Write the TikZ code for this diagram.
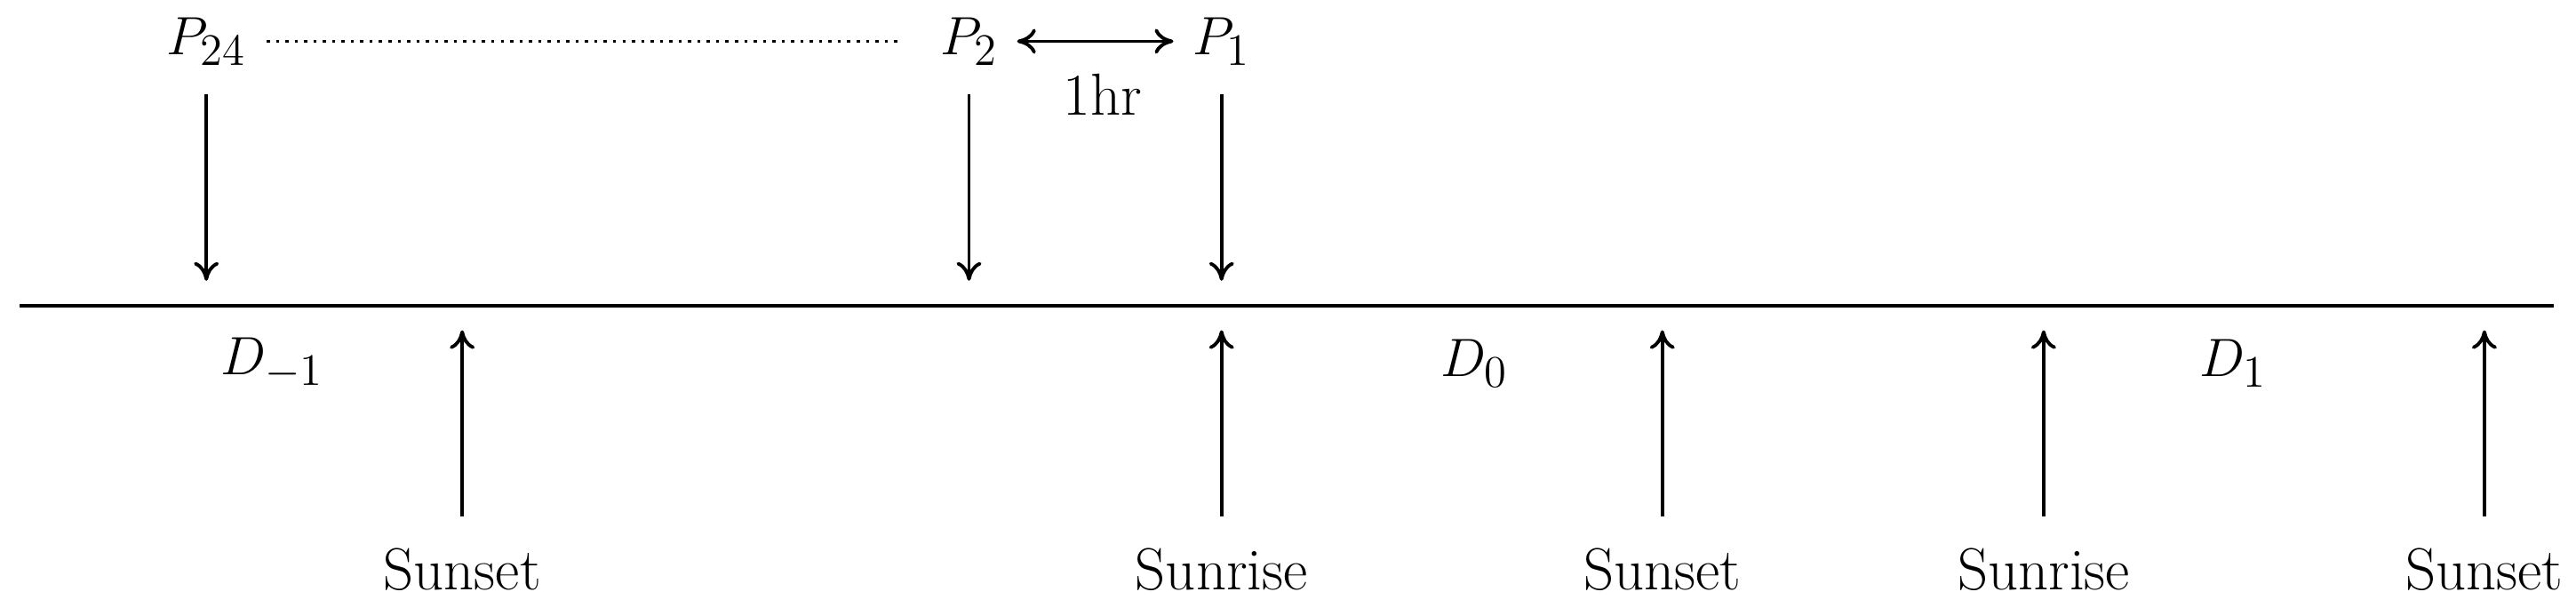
\documentclass[tikz,border=0pt]{standalone}
\usetikzlibrary{arrows.meta}
\begin{document}
\begin{tikzpicture}[x=0.01858cm,y=-0.01858cm,
  lbl/.style={font=\fontsize{19}{22}\selectfont,inner sep=0pt},
  arr/.style={-{To[length=6pt,width=8pt]},line width=1.1pt}]
\useasboundingbox (0,0) rectangle (1560.5,368.1);
\draw[line width=1.1pt] (12,185) coordinate (L) -- (1547,185) coordinate (R);
% top labels
\node[lbl] (p24) at (125,25) {$P_{24}$};
\node[lbl] (p2) at (587,25) {$P_2$};
\node[lbl] (p1) at (740,25) {$P_1$};
\draw[dotted,line width=1pt] (p24.east) ++(12,0) coordinate (d1) -- ([xshift=-12pt]p2.west) coordinate (d2);
\draw[{To[length=6pt,width=8pt]}-{To[length=6pt,width=8pt]},line width=1.1pt] ([xshift=6pt]p2.east) -- ([xshift=-6pt]p1.west);
\node[lbl] (hr) at (668,57) {1hr};
% down arrows
\coordinate (a24) at (125,170); \coordinate (a2) at (587,170); \coordinate (a1) at (740,170);
\draw[arr] (125,57) -- (a24);
\draw[arr] (587,57) -- (a2);
\draw[arr] (740,57) -- (a1);
% D labels
\node[lbl] (dm1) at (165,220) {$D_{-1}$};
\node[lbl] (d0) at (893,220) {$D_0$};
\node[lbl] (dd1) at (1353,220) {$D_1$};
% up arrows and labels
\foreach \x/\t/\n in {280/Sunset/s1,740/Sunrise/s2,1007/Sunset/s3,1238/Sunrise/s4,1505/Sunset/s5}{
  \node[lbl] (\n) at (\x,345) {\t};
  \draw[arr] (\x,313) -- (\x,200);
}
\end{tikzpicture}
\end{document}
